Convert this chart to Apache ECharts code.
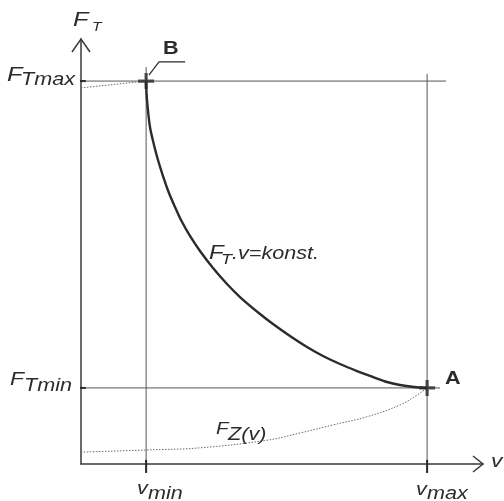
<!DOCTYPE html>
<html>
<head>
<meta charset="utf-8">
<script src="https://cdn.jsdelivr.net/npm/echarts@6/dist/echarts.min.js"></script>
<style>
  html, body { margin: 0; padding: 0; background: #fff; }
  #chart { width: 504px; height: 501px; }
</style>
</head>
<body>
<div id="chart"></div>
<script>
// Traction force F_T versus speed v: constant-power hyperbola between B and A
const vMin = 16.2, vMax = 86.1;      // speed limits
const fTMax = 90.1, fTMin = 17.9;    // traction force limits

// F_T · v = konst. (from B down to A)
const hypV = [16.17, 16.42, 17.16, 18.16, 19.15, 20.40, 21.89, 23.38, 24.88, 27.11, 29.60, 32.84, 36.32,
              39.55, 44.53, 47.76, 51.99, 56.22, 60.20, 64.43, 68.66, 72.64, 76.12, 79.35, 82.84, 86.07];
const hypF = [90.12, 85.65, 79.29, 75.06, 71.53, 67.76, 63.76, 60.47, 57.41, 53.65, 50.12, 46.12, 42.35,
              39.29, 35.29, 32.94, 30.12, 27.53, 25.41, 23.53, 21.88, 20.47, 19.29, 18.59, 18.12, 17.88];

// Resistance F_Z(v)
const fzV = [0, 16.4, 29.6, 46.3, 54.5, 62.7, 71.1, 79.4, 83.6, 86.1];
const fzF = [2.8, 3.3, 3.8, 5.6, 7.3, 9.2, 11.1, 13.9, 16.2, 17.9];

// short dotted continuation left of B
const topV = [0, 16.2];
const topF = [88.5, 90.1];

const zip = (a, b) => a.map((x, i) => [x, b[i]]);

const FONT = "'Liberation Sans', Arial, sans-serif";
const INK = '#2b2b2b';
const THIN = '#555555';

const chart = echarts.init(document.getElementById('chart'), null, { renderer: 'canvas' });

const thinLine = (pts, extra) => Object.assign({
  type: 'line', data: pts, symbol: 'none', clip: false, silent: true,
  lineStyle: { color: THIN, width: 1 }, z: 2
}, extra || {});

const plusPath = 'path://M-1.6,-8 L1.6,-8 L1.6,-1.6 L8,-1.6 L8,1.6 L1.6,1.6 L1.6,8 L-1.6,8 L-1.6,1.6 L-8,1.6 L-8,-1.6 L-1.6,-1.6 Z';

chart.setOption({
  animation: false,
  backgroundColor: '#ffffff',
  grid: { left: 81, right: 21, top: 39, bottom: 37 },
  xAxis: {
    type: 'value', min: 0, max: 100,
    axisLine: { show: true, onZero: false, lineStyle: { color: '#3a3a3a', width: 1.5 } },
    axisTick: { show: false }, axisLabel: { show: false }, splitLine: { show: false }
  },
  yAxis: {
    type: 'value', min: 0, max: 100,
    axisLine: { show: true, onZero: false, lineStyle: { color: '#3a3a3a', width: 1.5 } },
    axisTick: { show: false }, axisLabel: { show: false }, splitLine: { show: false }
  },
  series: [
    // guide lines at the limits
    thinLine([[-1.5, fTMax], [90.8, fTMax]]),
    thinLine([[-1.5, fTMin], [89.3, fTMin]]),
    thinLine([[vMin, -2.1], [vMin, 93.4]]),
    thinLine([[vMax, -2.1], [vMax, 91.8]]),
    // small bold ticks on the axes
    thinLine([[-1.5, fTMax], [1.2, fTMax]], { lineStyle: { color: INK, width: 2 } }),
    thinLine([[-1.5, fTMin], [1.2, fTMin]], { lineStyle: { color: INK, width: 2 } }),
    thinLine([[vMin, -2.1], [vMin, 1]], { lineStyle: { color: INK, width: 2 } }),
    thinLine([[vMax, -2.1], [vMax, 1]], { lineStyle: { color: INK, width: 2 } }),
    // leader line to label B
    thinLine([[16.9, 91.5], [19.4, 94.6], [25.9, 94.6]], { lineStyle: { color: INK, width: 1.2 } }),
    // constant power hyperbola
    {
      type: 'line', data: zip(hypV, hypF), smooth: 0.3, symbol: 'none', clip: false,
      lineStyle: { color: INK, width: 2.4, join: 'round' }, z: 4
    },
    // resistance curve
    {
      type: 'line', data: zip(fzV, fzF), smooth: 0.4, symbol: 'none', clip: false,
      lineStyle: { color: '#6a6a6a', width: 1, type: [1.5, 1.5] }, z: 3
    },
    {
      type: 'line', data: zip(topV, topF), symbol: 'none', clip: false,
      lineStyle: { color: '#6a6a6a', width: 1, type: [1.5, 1.5] }, z: 3
    },
    // operating points A and B
    {
      type: 'scatter', data: [[vMin, fTMax], [vMax, fTMin]], symbol: plusPath, symbolSize: 16,
      itemStyle: { color: INK }, z: 6, silent: true
    }
  ]
});

// Text (slightly widened lettering) and axis arrowheads
function txt(str, x, baseline, size, opts) {
  opts = opts || {};
  return {
    type: 'text', z: 20, silent: true,
    x: x, y: baseline - 0.35 * size, scaleX: 1.2,
    style: {
      text: str, x: 0, y: 0,
      font: (opts.bold ? 'bold ' : 'italic ') + size + 'px ' + FONT,
      fill: opts.color || INK, align: 'left', verticalAlign: 'middle'
    }
  };
}

const yTip = chart.convertToPixel({ gridIndex: 0 }, [0, 100]);
const xTip = chart.convertToPixel({ gridIndex: 0 }, [100, 0]);

chart.setOption({
  graphic: [
    {
      type: 'polyline', z: 20, silent: true,
      shape: { points: [[yTip[0] - 9, yTip[1] + 13], [yTip[0], yTip[1]], [yTip[0] + 9, yTip[1] + 13]] },
      style: { stroke: '#3a3a3a', lineWidth: 1.5, fill: null }
    },
    {
      type: 'polyline', z: 20, silent: true,
      shape: { points: [[xTip[0] - 10, xTip[1] - 8], [xTip[0], xTip[1]], [xTip[0] - 10, xTip[1] + 8]] },
      style: { stroke: '#3a3a3a', lineWidth: 1.5, fill: null }
    },
    // axis titles
    txt('F', 73, 28, 21), txt('T', 92, 32, 13),
    txt('v', 491, 468, 19),
    // force levels
    txt('F', 7, 83, 21), txt('Tmax', 21, 86, 18),
    txt('F', 10, 386, 19), txt('Tmin', 24, 392, 18),
    // speed levels
    txt('v', 137, 495, 18), txt('min', 148, 500, 18),
    txt('v', 416, 496, 18), txt('max', 427, 500, 18),
    // points
    txt('A', 445, 385, 18, { bold: true }),
    txt('B', 163, 55, 18, { bold: true }),
    // curve names
    txt('F', 209, 260, 20), txt('T', 221, 265, 15), txt('.v=konst.', 232, 260, 18),
    txt('F', 216, 435, 17), txt('Z(v)', 228, 441, 18)
  ]
});
</script>
</body>
</html>
